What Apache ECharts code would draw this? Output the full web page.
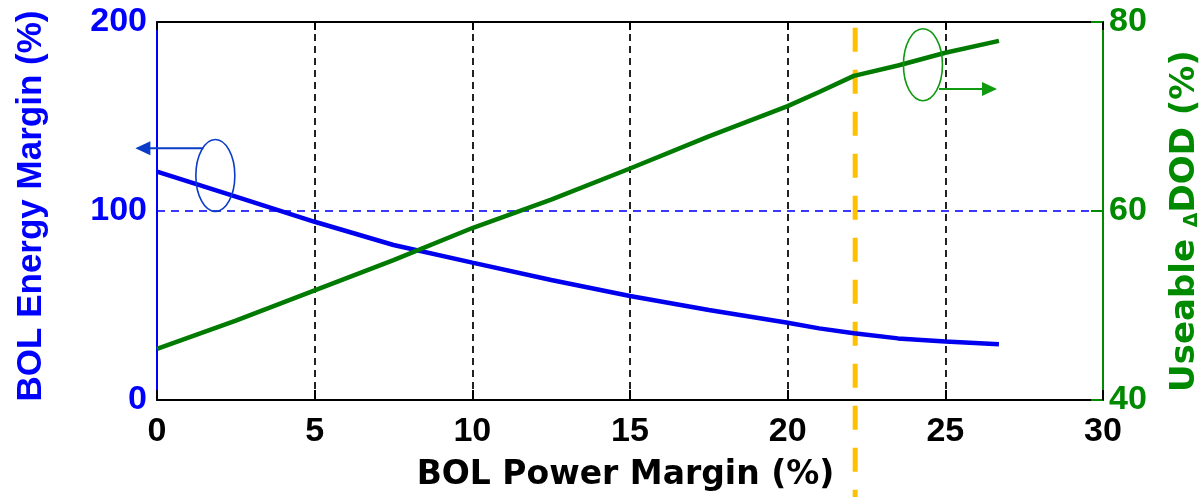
<!DOCTYPE html>
<html>
<head>
<meta charset="utf-8">
<script src="https://cdn.jsdelivr.net/npm/echarts@6/dist/echarts.min.js"></script>
<style>
  html, body { margin: 0; padding: 0; background: #fff; }
  #chart { width: 1202px; height: 497px; }
</style>
</head>
<body>
<div id="chart"></div>
<script>
// power margin (%) -> energy margin (%) and useable DOD (%)
const powerMargin = [0, 2.5, 5, 7.5, 10, 12.5, 15, 17.5, 20, 21, 22.1, 23.5, 25, 26.7]
const energyMargin = [120.8, 107.6, 94.3, 82, 72.7, 63.5, 55, 47.6, 40.9, 37.9, 35.3, 32.6, 30.9, 29.5]
const useableDod = [45.4, 48.4, 51.6, 54.8, 58.2, 61.2, 64.5, 67.9, 71.1, 72.6, 74.3, 75.4, 76.75, 78.0]
const xTicks = [0, 30, 5]
const leftTicks = [0, 200, 100]
const rightTicks = [40, 80, 20]
const designPoint = 22.14

const FONT = '"Liberation Sans", Arial, sans-serif'
const WIDE = '"DejaVu Sans", sans-serif'
const BLUE = '#0000ff'
const GREEN = '#008a00'

let chart = echarts.init(document.getElementById('chart'))

chart.setOption({
  animation: false,
  grid: { left: 157, right: 99, top: 22, bottom: 97, containLabel: false, outerBoundsMode: 'none' },
  xAxis: [{
    type: 'value',
    min: xTicks[0], max: xTicks[1], interval: xTicks[2],
    name: 'BOL Power Margin (%)',
    nameLocation: 'middle',
    nameGap: 59,
    nameTextStyle: { fontFamily: WIDE, fontWeight: 'bold', fontSize: 33, color: '#000', padding: [0, 9, 0, 0] },
    axisLine: { lineStyle: { color: '#000', width: 2 } },
    axisTick: { inside: true, length: 10, lineStyle: { color: '#000', width: 2 } },
    axisLabel: { fontFamily: FONT, fontWeight: 'bold', fontSize: 34, color: '#000', margin: 15 },
    splitLine: { show: true, lineStyle: { color: '#222', width: 2, type: [7, 5] } }
  }, {
    type: 'value',
    position: 'top',
    min: xTicks[0], max: xTicks[1], interval: xTicks[2],
    axisLine: { lineStyle: { color: '#000', width: 2 } },
    axisTick: { inside: true, length: 8, lineStyle: { color: '#000', width: 2 } },
    axisLabel: { show: false },
    splitLine: { show: false }
  }],
  yAxis: [{
    type: 'value',
    position: 'left',
    min: leftTicks[0], max: leftTicks[1], interval: leftTicks[2],
    name: 'BOL Energy Margin (%)',
    nameLocation: 'middle',
    nameRotate: 90,
    nameGap: 108,
    nameTextStyle: { fontFamily: FONT, fontWeight: 'bold', fontSize: 35, color: BLUE, padding: [0, 0, 0, 10] },
    axisLine: { show: true, onZero: false, lineStyle: { color: BLUE, width: 2 } },
    axisTick: { show: false },
    axisLabel: { fontFamily: FONT, fontWeight: 'bold', fontSize: 34, color: BLUE, margin: 10 },
    splitLine: { show: true, lineStyle: { color: '#3a3aff', width: 2, type: [8, 6] } }
  }, {
    type: 'value',
    position: 'right',
    min: rightTicks[0], max: rightTicks[1], interval: rightTicks[2],
    name: '{a|Useable }{d|Δ}{a|DOD (%)}',
    nameLocation: 'middle',
    nameRotate: 90,
    nameGap: 65,
    nameTextStyle: {
      padding: [0, 20, 0, 0],
      rich: {
        a: { fontFamily: WIDE, fontWeight: 'bold', fontSize: 34, color: GREEN },
        d: { fontFamily: WIDE, fontWeight: 'bold', fontSize: 19, color: GREEN, verticalAlign: 'bottom', padding: [10, 0, 0, 0] }
      }
    },
    axisLine: { show: true, onZero: false, lineStyle: { color: GREEN, width: 2 } },
    axisTick: { show: true, inside: true, length: 12, lineStyle: { color: GREEN, width: 2 } },
    axisLabel: { fontFamily: FONT, fontWeight: 'bold', fontSize: 34, color: GREEN, margin: 6 },
    splitLine: { show: false }
  }],
  series: [{
    name: 'BOL Energy Margin',
    type: 'line',
    yAxisIndex: 0,
    showSymbol: false,
    lineStyle: { color: '#0000ee', width: 4.5 },
    data: powerMargin.map((x, i) => [x, energyMargin[i]])
  }, {
    name: 'Useable DOD',
    type: 'line',
    yAxisIndex: 1,
    showSymbol: false,
    lineStyle: { color: '#007a00', width: 4.5 },
    data: powerMargin.map((x, i) => [x, useableDod[i]])
  }]
})

// annotations: ellipses with arrows pointing to each axis, plus the design point line
function drawNotes () {
  let blueC = chart.convertToPixel({ xAxisIndex: 0, yAxisIndex: 0 }, [1.85, 118.8])
  let blueA = chart.convertToPixel({ xAxisIndex: 0, yAxisIndex: 0 }, [1.47, 133.2])
  let greenC = chart.convertToPixel({ xAxisIndex: 0, yAxisIndex: 1 }, [24.29, 75.48])
  let greenA = chart.convertToPixel({ xAxisIndex: 0, yAxisIndex: 1 }, [24.8, 72.9])
  let dx = chart.convertToPixel({ xAxisIndex: 0 }, designPoint)
  let top = chart.convertToPixel({ yAxisIndex: 0 }, 197)
  chart.setOption({
    graphic: [
      {
        type: 'line', z: 1,
        shape: { x1: dx, y1: top, x2: dx, y2: 497 },
        style: { stroke: '#ffc000', lineWidth: 5, lineDash: [24, 18] }
      },
      {
        type: 'ellipse', z: 10,
        shape: { cx: blueC[0], cy: blueC[1], rx: 19.5, ry: 36 },
        style: { fill: null, stroke: '#0a3cc8', lineWidth: 1.6 }
      },
      {
        type: 'line', z: 10,
        shape: { x1: blueA[0], y1: blueA[1], x2: blueA[0] - 55, y2: blueA[1] },
        style: { stroke: '#0a3cc8', lineWidth: 2 }
      },
      {
        type: 'polygon', z: 10,
        shape: { points: [[blueA[0] - 68, blueA[1]], [blueA[0] - 53, blueA[1] - 7], [blueA[0] - 53, blueA[1] + 7]] },
        style: { fill: '#0a3cc8' }
      },
      {
        type: 'ellipse', z: 10,
        shape: { cx: greenC[0], cy: greenC[1], rx: 19.5, ry: 36 },
        style: { fill: null, stroke: '#109a10', lineWidth: 1.6 }
      },
      {
        type: 'line', z: 10,
        shape: { x1: greenA[0], y1: greenA[1], x2: greenA[0] + 45, y2: greenA[1] },
        style: { stroke: '#109a10', lineWidth: 2 }
      },
      {
        type: 'polygon', z: 10,
        shape: { points: [[greenA[0] + 58, greenA[1]], [greenA[0] + 43, greenA[1] - 7], [greenA[0] + 43, greenA[1] + 7]] },
        style: { fill: '#109a10' }
      }
    ]
  })
}
drawNotes()
</script>
</body>
</html>
